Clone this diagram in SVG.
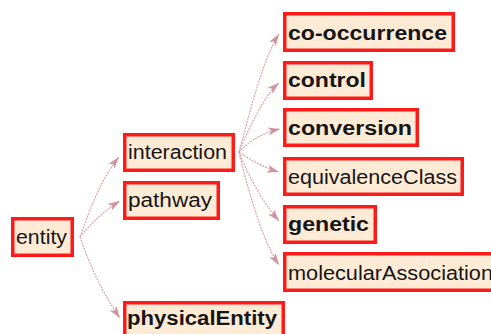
<svg xmlns="http://www.w3.org/2000/svg" width="491" height="334" viewBox="0 0 491 334">
  <defs>
    <style>
      .box { fill: #fdebd6; stroke: #ff1a1a; stroke-width: 3.5; }
      .lbl { font-family: "Liberation Sans", Arial, sans-serif; font-size: 20px; fill: #161616; }
      .bold { font-weight: bold; }
      .edge { fill: none; stroke: #d9a6ad; stroke-width: 1.2; stroke-dasharray: 2 1; }
    </style>
    <marker id="arrow" viewBox="0 0 12 8" refX="12" refY="4" markerWidth="12" markerHeight="8" markerUnits="userSpaceOnUse" orient="auto">
      <path d="M0,0 L12,4 L0,8 L3,4 Z" fill="#c98590" fill-opacity="0.85"/>
    </marker>
  </defs>
  <rect width="491" height="334" fill="#ffffff"/>

  <g id="connectors">
    <path class="edge" marker-end="url(#arrow)" d="M80,237 C88,215 100,180 119,157"/>
    <path class="edge" marker-end="url(#arrow)" d="M80,237 C92,222 105,210 120,201"/>
    <path class="edge" marker-end="url(#arrow)" d="M80,237 C88,260 100,290 120,318"/>
    <path class="edge" marker-end="url(#arrow)" d="M239,152 C248,120 262,60 279,34"/>
    <path class="edge" marker-end="url(#arrow)" d="M239,152 C250,125 265,95 279,83"/>
    <path class="edge" marker-end="url(#arrow)" d="M239,152 C250,140 265,132 280,129"/>
    <path class="edge" marker-end="url(#arrow)" d="M239,152 C250,160 265,168 279,172"/>
    <path class="edge" marker-end="url(#arrow)" d="M239,152 C250,180 265,205 279,221"/>
    <path class="edge" marker-end="url(#arrow)" d="M239,152 C248,190 262,240 279,265"/>
  </g>

  <g id="entity">
    <rect class="box" x="12.75" y="218.75" width="59.5" height="36.5"/>
    <text class="lbl" x="16" y="244" textLength="51" lengthAdjust="spacingAndGlyphs">entity</text>
  </g>
  <g id="interaction">
    <rect class="box" x="124.75" y="134.75" width="108.5" height="35.5"/>
    <text class="lbl" x="128" y="159" textLength="99" lengthAdjust="spacingAndGlyphs">interaction</text>
  </g>
  <g id="pathway">
    <rect class="box" x="124.75" y="182.75" width="93.5" height="35.5"/>
    <text class="lbl" x="128" y="207" textLength="84" lengthAdjust="spacingAndGlyphs">pathway</text>
  </g>
  <g id="physicalEntity">
    <rect class="box" x="124.75" y="302.75" width="158.5" height="35.5"/>
    <text class="lbl bold" x="127" y="325" textLength="150" lengthAdjust="spacingAndGlyphs">physicalEntity</text>
  </g>
  <g id="co-occurrence">
    <rect class="box" x="284.75" y="13.75" width="168.5" height="36.5"/>
    <text class="lbl bold" x="288" y="40" textLength="159" lengthAdjust="spacingAndGlyphs">co-occurrence</text>
  </g>
  <g id="control">
    <rect class="box" x="284.75" y="62.75" width="86.5" height="35.5"/>
    <text class="lbl bold" x="288" y="87" textLength="78" lengthAdjust="spacingAndGlyphs">control</text>
  </g>
  <g id="conversion">
    <rect class="box" x="284.75" y="109.75" width="132.5" height="35.5"/>
    <text class="lbl bold" x="288" y="135" textLength="124" lengthAdjust="spacingAndGlyphs">conversion</text>
  </g>
  <g id="equivalenceClass">
    <rect class="box" x="284.75" y="158.75" width="177.5" height="35.5"/>
    <text class="lbl" x="288" y="184" textLength="169" lengthAdjust="spacingAndGlyphs">equivalenceClass</text>
  </g>
  <g id="genetic">
    <rect class="box" x="284.75" y="206.75" width="90.5" height="35.5"/>
    <text class="lbl bold" x="288" y="231" textLength="81" lengthAdjust="spacingAndGlyphs">genetic</text>
  </g>
  <g id="molecularAssociation">
    <rect class="box" x="284.75" y="253.75" width="213.5" height="36.5"/>
    <text class="lbl" x="288" y="280" textLength="205" lengthAdjust="spacingAndGlyphs">molecularAssociation</text>
  </g>
</svg>
